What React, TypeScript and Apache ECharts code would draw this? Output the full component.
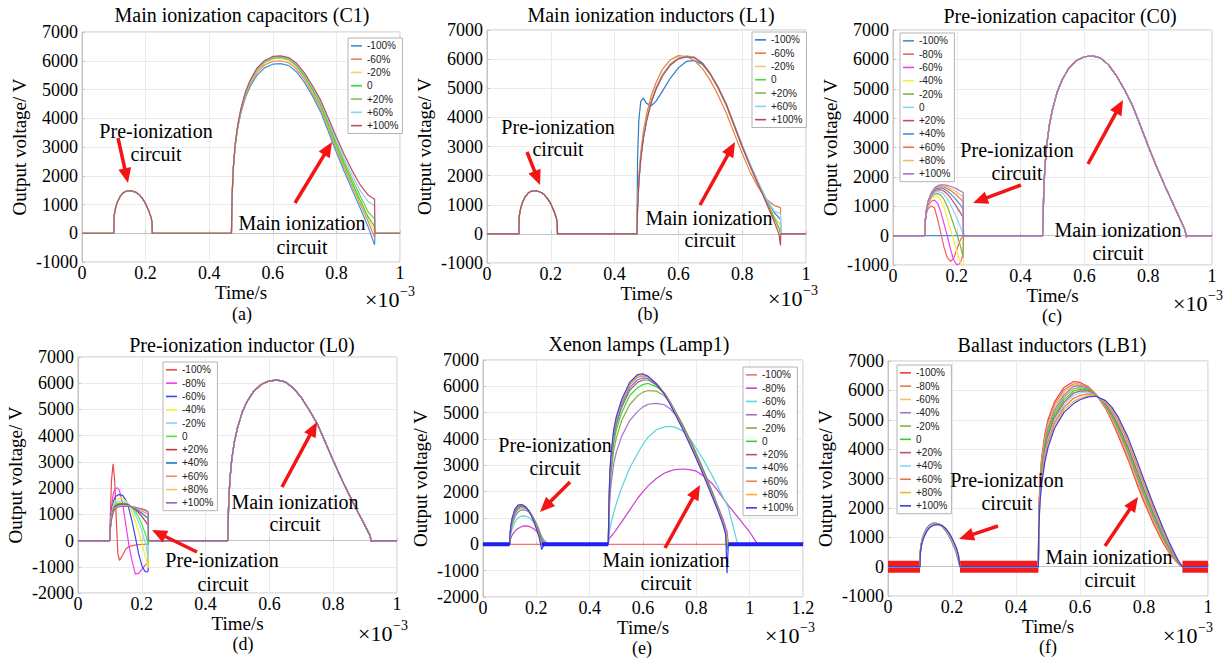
import React, { useEffect, useRef } from 'react';
import * as echarts from 'echarts';

// ---------- labels ----------
const LABELS_7 = ['-100%', '-60%', '-20%', '0', '+20%', '+60%', '+100%'];
const LABELS_11 = ['-100%', '-80%', '-60%', '-40%', '-20%', '0', '+20%', '+40%', '+60%', '+80%', '+100%'];
const TITLES = [
  'Main ionization capacitors (C1)',
  'Main ionization inductors (L1)',
  'Pre-ionization capacitor (C0)',
  'Pre-ionization inductor (L0)',
  'Xenon lamps (Lamp1)',
  'Ballast inductors (LB1)',
];
const TAGS = ['(a)', '(b)', '(c)', '(d)', '(e)', '(f)'];
const X_TICKS_MAX = [1, 1, 1, 1, 1.2, 1];
const Y_MIN = [-1000, -1000, -1000, -2000, -2000, -1000];
const Y_MAX = 7000;

// ---------- colours ----------
const A_COLORS = ['#3E92D8', '#EE8455', '#F2CF7A', '#2BE02B', '#86BF48', '#8CD3F2', '#C74B66'];
const B_COLORS = ['#2C7BC8', '#EE7A44', '#F2C77A', '#3BE03B', '#86BA3E', '#8CD3F2', '#C2435E'];
const C_COLORS = ['#3E8FDB', '#F26060', '#F23CF2', '#F2F03C', '#80B048', '#8CD3F2', '#C24E6A', '#4C8ED6', '#F27048', '#F2C060', '#A274C8'];
const D_COLORS = ['#F04848', '#F23CF2', '#3C46F0', '#F2F020', '#8CD3F2', '#3CF03C', '#C2304E', '#2272C6', '#F28A66', '#F2C066', '#9466B8'];
const E_COLORS = ['#F27272', '#D23CD2', '#5CD6D6', '#A274C8', '#86AC48', '#22E022', '#C24E6A', '#4C8ED6', '#F28250', '#F2B238', '#3C3CF2'];
const F_COLORS = ['#F23C3C', '#F2784A', '#F2C060', '#A274C8', '#82B448', '#2ED42E', '#C24E6A', '#8CD3F2', '#F27048', '#F2B238', '#3C3CF2'];

// ---------- (a)/(b) shared pre-ionization pulse ----------
const AB_PRE_X = [0.1, 0.101, 0.105, 0.11, 0.12, 0.13, 0.14, 0.155, 0.17, 0.18, 0.19, 0.2, 0.21, 0.217, 0.22, 0.221];
const AB_PRE_Y = [0, 600, 850, 1050, 1280, 1410, 1470, 1480, 1420, 1340, 1210, 1030, 780, 560, 400, 0];

// ---------- main pulse time grid (a)-(d) ----------
const MAIN_X = [0.47, 0.472, 0.476, 0.482, 0.49, 0.5, 0.515, 0.53, 0.55, 0.575, 0.6, 0.625, 0.65, 0.675, 0.7, 0.725, 0.75, 0.775, 0.8, 0.825, 0.85, 0.875, 0.9, 0.915, 0.92, 0.921];

// (a) main ionization capacitors
const A_M100 = [0, 1290, 2270, 3050, 3680, 4200, 4760, 5130, 5490, 5760, 5880, 5900, 5830, 5610, 5240, 4770, 4230, 3530, 2820, 2140, 1500, 870, 220, -250, -400, 0];
const A_M60 = [0, 1295, 2285, 3070, 3710, 4240, 4820, 5210, 5580, 5860, 5980, 6000, 5930, 5710, 5340, 4870, 4330, 3640, 2930, 2260, 1630, 1020, 400, 0, -150, 0];
const A_M20 = [0, 1300, 2295, 3090, 3740, 4280, 4880, 5270, 5650, 5930, 6060, 6080, 6010, 5790, 5420, 4950, 4420, 3730, 3020, 2350, 1720, 1120, 520, 200, 80, 0];
const A_0 = [0, 1300, 2300, 3100, 3750, 4300, 4900, 5300, 5680, 5960, 6090, 6120, 6050, 5820, 5450, 4980, 4450, 3760, 3050, 2380, 1750, 1150, 560, 330, 220, 0];
const A_P20 = [0, 1300, 2305, 3110, 3760, 4320, 4920, 5320, 5700, 5980, 6110, 6140, 6070, 5850, 5490, 5030, 4510, 3840, 3150, 2490, 1880, 1300, 740, 560, 520, 0];
const A_P60 = [0, 1300, 2310, 3120, 3770, 4330, 4940, 5340, 5720, 6000, 6130, 6150, 6090, 5880, 5530, 5080, 4580, 3920, 3250, 2610, 2020, 1480, 1100, 1000, 930, 0];
const A_P100 = [0, 1300, 2315, 3130, 3780, 4340, 4950, 5350, 5740, 6020, 6150, 6170, 6110, 5910, 5570, 5130, 4640, 4000, 3350, 2730, 2170, 1680, 1330, 1220, 1180, 0];

// (b) main ionization inductors
const B_M100 = [0, 2600, 3900, 4550, 4660, 4480, 4400, 4560, 4900, 5350, 5700, 5920, 5950, 5820, 5480, 5000, 4430, 3740, 3040, 2380, 1760, 1200, 740, 560, 500, 0];
const B_M60 = [0, 1000, 1950, 2800, 3500, 4100, 4750, 5200, 5650, 5980, 6120, 6090, 5950, 5680, 5270, 4750, 4150, 3450, 2760, 2120, 1600, 1200, 980, 920, 900, 0];
const B_M20 = [0, 920, 1830, 2640, 3330, 3930, 4580, 5030, 5480, 5850, 6040, 6100, 6050, 5850, 5470, 4990, 4410, 3690, 2970, 2310, 1700, 1130, 600, 370, 300, 0];
const B_0 = [0, 900, 1800, 2600, 3300, 3900, 4550, 5000, 5450, 5820, 6030, 6100, 6060, 5860, 5480, 5000, 4420, 3700, 2980, 2320, 1700, 1120, 560, 200, 0, 0];
const B_P20 = [0, 900, 1800, 2600, 3300, 3900, 4550, 5000, 5450, 5820, 6030, 6100, 6070, 5870, 5500, 5020, 4450, 3730, 3010, 2350, 1730, 1140, 540, 200, 100, 0];
const B_P60 = [0, 890, 1780, 2580, 3280, 3880, 4530, 4990, 5440, 5810, 6020, 6090, 6070, 5880, 5510, 5040, 4470, 3750, 3040, 2380, 1780, 1220, 780, 720, 700, 0];
const B_P100 = [0, 880, 1760, 2560, 3260, 3860, 4510, 4970, 5420, 5800, 6010, 6080, 6050, 5860, 5490, 5020, 4450, 3730, 3000, 2330, 1700, 1080, 430, 0, -400, 0];

// (c)/(d) shared main pulse
const CD_MAIN = [0, 1300, 2300, 3100, 3750, 4300, 4900, 5300, 5680, 5960, 6090, 6120, 6050, 5820, 5450, 4980, 4450, 3760, 3050, 2380, 1750, 1150, 560, 200, -50, 0];

// (c) pre-ionization capacitor: pre pulses
const C_PRE_X = [0.1, 0.101, 0.105, 0.11, 0.12, 0.13, 0.14, 0.15, 0.16, 0.17, 0.18, 0.19, 0.2, 0.21, 0.215, 0.22, 0.221];
const C_M100 = [0, 0, 0, 0, 0, 0, 0, 0, 0, 0, 0, 0, 0, 0, 0, 0, 0];
const C_M80 = [0, 450, 750, 920, 1010, 950, 550, 80, -400, -750, -880, -780, -480, -180, -80, 0, 0];
const C_M60 = [0, 470, 800, 1000, 1170, 1210, 1100, 800, 400, 0, -450, -820, -1000, -950, -800, -600, 0];
const C_M40 = [0, 480, 830, 1050, 1260, 1330, 1330, 1200, 950, 600, 220, -150, -550, -880, -980, -1000, 0];
const C_M20 = [0, 490, 850, 1080, 1320, 1410, 1430, 1380, 1230, 1000, 700, 380, 60, -300, -520, -750, 0];
const C_0 = [0, 500, 870, 1110, 1370, 1470, 1500, 1480, 1400, 1260, 1060, 840, 590, 330, 200, 50, 0];
const C_P20 = [0, 500, 880, 1130, 1400, 1520, 1560, 1560, 1510, 1420, 1290, 1140, 970, 800, 710, 620, 0];
const C_P40 = [0, 500, 890, 1150, 1430, 1560, 1610, 1620, 1590, 1520, 1430, 1320, 1190, 1060, 980, 900, 0];
const C_P60 = [0, 500, 895, 1160, 1440, 1590, 1650, 1670, 1650, 1600, 1540, 1460, 1370, 1270, 1210, 1150, 0];
const C_P80 = [0, 500, 898, 1165, 1450, 1610, 1680, 1700, 1690, 1660, 1610, 1550, 1480, 1400, 1360, 1320, 0];
const C_P100 = [0, 500, 900, 1170, 1460, 1620, 1700, 1725, 1725, 1710, 1680, 1640, 1590, 1530, 1500, 1460, 0];

// (d) pre-ionization inductor: pre pulses
const D_PRE_X = [0.1, 0.101, 0.105, 0.11, 0.115, 0.12, 0.125, 0.13, 0.14, 0.15, 0.16, 0.17, 0.18, 0.19, 0.2, 0.21, 0.215, 0.22, 0.221];
const D_M100 = [0, 800, 2300, 2930, 2300, 800, -500, -760, -550, -320, -230, -190, -170, -160, -150, -140, -135, -130, 0];
const D_M80 = [0, 600, 1300, 1750, 1950, 2000, 2000, 1900, 1400, 600, -200, -800, -1280, -1250, -1100, -950, -900, -870, 0];
const D_M60 = [0, 500, 1100, 1450, 1620, 1700, 1740, 1750, 1720, 1550, 1200, 700, 120, -500, -950, -1180, -1200, -1150, 0];
const D_M40 = [0, 480, 1000, 1320, 1480, 1550, 1590, 1600, 1600, 1510, 1330, 1060, 720, 330, -90, -550, -800, -1050, 0];
const D_M20 = [0, 470, 950, 1250, 1400, 1460, 1490, 1500, 1500, 1480, 1370, 1200, 970, 700, 380, -50, -350, -700, 0];
const D_0 = [0, 460, 920, 1200, 1340, 1400, 1420, 1430, 1430, 1420, 1360, 1250, 1100, 900, 620, 300, 100, -150, 0];
const D_P20 = [0, 450, 880, 1150, 1280, 1340, 1370, 1390, 1400, 1390, 1350, 1280, 1180, 1060, 920, 760, 670, 580, 0];
const D_P40 = [0, 440, 860, 1120, 1250, 1310, 1340, 1360, 1370, 1360, 1330, 1280, 1210, 1130, 1040, 940, 890, 830, 0];
const D_P60 = [0, 430, 840, 1100, 1220, 1280, 1310, 1330, 1340, 1340, 1320, 1290, 1240, 1190, 1130, 1070, 1030, 1000, 0];
const D_P80 = [0, 420, 820, 1080, 1200, 1260, 1290, 1310, 1320, 1320, 1310, 1290, 1260, 1220, 1180, 1140, 1110, 1080, 0];
const D_P100 = [0, 410, 800, 1060, 1180, 1240, 1270, 1290, 1300, 1300, 1300, 1290, 1270, 1240, 1210, 1170, 1140, 1100, 0];

// (e) xenon lamps
const E_PRE_X = [0.1, 0.101, 0.105, 0.11, 0.12, 0.13, 0.14, 0.15, 0.16, 0.17, 0.18, 0.19, 0.2, 0.21, 0.22, 0.23, 0.24, 0.25];
const E_PRE_M80 = [0, 110, 250, 360, 500, 590, 650, 690, 700, 690, 650, 590, 500, 390, 260, 140, 40, 0];
const E_PRE_M60 = [0, 190, 420, 610, 850, 990, 1060, 1080, 1070, 1030, 950, 830, 680, 500, 300, 100, 0, 0];
const E_PRE_M40 = [0, 240, 540, 770, 1050, 1210, 1290, 1310, 1300, 1240, 1140, 990, 800, 560, 280, 0, 0, 0];
const E_PRE_M20 = [0, 270, 600, 850, 1150, 1310, 1380, 1390, 1360, 1290, 1160, 980, 760, 500, 200, 0, 0, 0];
const E_PRE_0 = [0, 290, 640, 900, 1210, 1370, 1430, 1430, 1390, 1300, 1160, 960, 730, 460, 140, 0, 0, 0];
const E_PRE_P20 = [0, 310, 670, 940, 1250, 1400, 1450, 1450, 1400, 1300, 1150, 940, 700, 420, 80, 0, 0, 0];
const E_PRE_P40 = [0, 320, 690, 960, 1280, 1420, 1470, 1465, 1410, 1300, 1140, 920, 670, 380, 30, 0, 0, 0];
const E_PRE_P60 = [0, 330, 710, 980, 1300, 1440, 1490, 1475, 1420, 1300, 1140, 910, 650, 350, 0, 0, 0, 0];
const E_PRE_P80 = [0, 340, 730, 1000, 1320, 1460, 1500, 1480, 1420, 1300, 1130, 900, 630, 330, 0, 0, 0, 0];
const E_PRE_P100 = [0, 350, 750, 1020, 1340, 1480, 1510, 1490, 1420, 1300, 1120, 880, 600, 300, -200, 0, 0, 0];

const E_MX = [0.47, 0.472, 0.476, 0.48, 0.49, 0.5, 0.52, 0.55, 0.58, 0.6, 0.62, 0.65, 0.68, 0.7, 0.72, 0.75, 0.78, 0.8, 0.83, 0.86, 0.88, 0.9, 0.91, 0.915, 0.92, 0.955, 0.98, 1.0, 1.03, 1.04];
const E_M80 = [0, 200, 250, 300, 420, 560, 850, 1300, 1750, 2000, 2230, 2500, 2700, 2780, 2840, 2860, 2830, 2780, 2580, 2300, 2050, 1750, 1620, 1550, 1480, 1040, 720, 470, 0, 0];
const E_M60 = [0, 350, 600, 800, 1200, 1550, 2150, 2900, 3450, 3800, 4080, 4350, 4460, 4480, 4450, 4300, 3950, 3650, 3150, 2600, 2200, 1800, 1600, 1500, 1400, 0, 0, 0, 0, 0];
const E_M40 = [0, 900, 1750, 2250, 3050, 3500, 4100, 4700, 5050, 5220, 5320, 5350, 5300, 5160, 4940, 4480, 3900, 3460, 2760, 2000, 1480, 960, 650, 500, 0, 0, 0, 0, 0, 0];
const E_M20 = [0, 1100, 2100, 2650, 3550, 4050, 4700, 5300, 5640, 5780, 5840, 5820, 5640, 5400, 5070, 4520, 3890, 3430, 2720, 1950, 1410, 800, 380, 100, 0, 0, 0, 0, 0, 0];
const E_0 = [0, 1200, 2300, 2900, 3850, 4350, 5000, 5650, 5950, 6070, 6110, 5990, 5740, 5440, 5070, 4500, 3860, 3400, 2700, 1930, 1400, 820, 400, -200, 0, 0, 0, 0, 0, 0];
const E_P20 = [0, 1300, 2500, 3100, 4050, 4550, 5200, 5850, 6150, 6240, 6240, 6050, 5750, 5430, 5050, 4470, 3830, 3370, 2670, 1910, 1390, 830, 460, 250, 0, 0, 0, 0, 0, 0];
const E_P40 = [0, 1350, 2600, 3200, 4150, 4650, 5300, 5950, 6250, 6320, 6300, 6090, 5750, 5420, 5030, 4440, 3800, 3340, 2640, 1890, 1370, 820, 470, 280, 0, 0, 0, 0, 0, 0];
const E_P60 = [0, 1400, 2700, 3300, 4250, 4750, 5400, 6050, 6350, 6400, 6350, 6110, 5740, 5400, 5000, 4410, 3770, 3310, 2610, 1860, 1350, 800, 450, 270, 0, 0, 0, 0, 0, 0];
const E_P80 = [0, 1450, 2750, 3350, 4300, 4800, 5450, 6100, 6400, 6430, 6360, 6110, 5720, 5380, 4980, 4380, 3740, 3280, 2580, 1830, 1330, 780, 430, 250, 0, 0, 0, 0, 0, 0];
const E_P100 = [0, 1500, 2800, 3400, 4350, 4850, 5500, 6150, 6450, 6470, 6380, 6100, 5700, 5350, 4950, 4350, 3700, 3250, 2550, 1800, 1300, 750, 400, -1100, 0, 0, 0, 0, 0, 0];
const E_BAND_X = [0, 0.1, 0.16, 0.22, 0.47, 0.7, 0.92, 1.2];
const E_BAND_Y: (number | string)[] = [0, 0, '-', 0, 0, '-', 0, 0];

// (f) ballast inductors
const F_PRE_X = [0.1, 0.101, 0.105, 0.11, 0.12, 0.13, 0.14, 0.15, 0.16, 0.17, 0.18, 0.19, 0.2, 0.21, 0.215, 0.22, 0.225];
const F_PRE_EARLY = [0, 550, 850, 1050, 1290, 1420, 1475, 1480, 1440, 1360, 1230, 1060, 840, 580, 420, 200, 0];
const F_PRE_MID = [0, 500, 800, 1000, 1240, 1380, 1440, 1460, 1440, 1380, 1270, 1110, 900, 650, 500, 300, 0];
const F_PRE_LATE = [0, 450, 750, 950, 1190, 1330, 1400, 1430, 1430, 1390, 1300, 1160, 970, 730, 590, 400, 0];
const F_MX = [0.47, 0.471, 0.475, 0.48, 0.49, 0.5, 0.52, 0.55, 0.58, 0.6, 0.625, 0.65, 0.68, 0.7, 0.72, 0.75, 0.78, 0.8, 0.83, 0.86, 0.88, 0.9, 0.91, 0.92];
const F_M100 = [0, 1800, 3000, 3700, 4500, 5000, 5600, 6100, 6300, 6270, 6130, 5870, 5380, 4950, 4450, 3650, 2750, 2200, 1450, 800, 450, 180, 70, 0];
const F_M80 = [0, 1740, 2920, 3610, 4405, 4905, 5510, 6015, 6225, 6210, 6095, 5865, 5405, 5000, 4515, 3725, 2830, 2275, 1515, 850, 485, 197, 78, 0];
const F_M60 = [0, 1680, 2840, 3520, 4310, 4810, 5420, 5930, 6180, 6180, 6090, 5855, 5435, 5045, 4575, 3800, 2910, 2350, 1580, 900, 520, 214, 86, 0];
const F_M40 = [0, 1620, 2760, 3430, 4215, 4715, 5330, 5845, 6135, 6155, 6085, 5850, 5460, 5090, 4640, 3875, 2990, 2425, 1645, 950, 555, 231, 94, 0];
const F_M20 = [0, 1560, 2680, 3340, 4120, 4620, 5240, 5760, 6060, 6095, 6050, 5845, 5490, 5140, 4700, 3950, 3070, 2500, 1710, 1000, 590, 248, 102, 0];
const F_0 = [0, 1500, 2600, 3250, 4025, 4525, 5150, 5675, 5985, 6035, 6015, 5835, 5515, 5185, 4765, 4025, 3150, 2575, 1775, 1050, 625, 265, 110, 0];
const F_P20 = [0, 1440, 2520, 3160, 3930, 4430, 5060, 5590, 5910, 5975, 5980, 5830, 5540, 5230, 4830, 4100, 3230, 2650, 1840, 1100, 660, 282, 118, 0];
const F_P40 = [0, 1380, 2440, 3070, 3835, 4335, 4970, 5505, 5835, 5920, 5945, 5820, 5570, 5280, 4890, 4175, 3310, 2725, 1905, 1150, 695, 299, 126, 0];
const F_P60 = [0, 1320, 2360, 2980, 3740, 4240, 4880, 5420, 5730, 5830, 5880, 5815, 5595, 5325, 4955, 4250, 3390, 2800, 1970, 1200, 730, 316, 134, 0];
const F_P80 = [0, 1260, 2280, 2890, 3645, 4145, 4790, 5335, 5625, 5740, 5815, 5805, 5625, 5375, 5015, 4325, 3470, 2875, 2035, 1250, 765, 333, 142, 0];
const F_P100 = [0, 1200, 2200, 2800, 3550, 4050, 4700, 5250, 5550, 5680, 5780, 5800, 5650, 5420, 5080, 4400, 3550, 2950, 2100, 1300, 800, 350, 150, 0];
const F_BAND_X = [0, 0.1, 0.16, 0.225, 0.47, 0.6, 0.92, 1];
const F_BAND_Y: (number | string)[] = [0, 0, '-', 0, 0, '-', 0, 0];

// ---------- helpers ----------
type Seg = [number[], (number | string)[]];
const zip = (xs: number[], ys: (number | string)[]) => xs.map((x, i) => [x, ys[i]]);
function curve(xMax: number, ...segs: Seg[]) {
  const pts: any[] = [[0, 0]];
  for (const [xs, ys] of segs) pts.push(...zip(xs, ys));
  if (pts[pts.length - 1][0] < xMax) pts.push([xMax, 0]);
  return pts;
}

const PANEL_CURVES: any[][] = [
  [A_M100, A_M60, A_M20, A_0, A_P20, A_P60, A_P100].map((m) => curve(1, [AB_PRE_X, AB_PRE_Y], [MAIN_X, m])),
  [B_M100, B_M60, B_M20, B_0, B_P20, B_P60, B_P100].map((m) => curve(1, [AB_PRE_X, AB_PRE_Y], [MAIN_X, m])),
  [C_M100, C_M80, C_M60, C_M40, C_M20, C_0, C_P20, C_P40, C_P60, C_P80, C_P100].map((p) => curve(1, [C_PRE_X, p], [MAIN_X, CD_MAIN])),
  [D_M100, D_M80, D_M60, D_M40, D_M20, D_0, D_P20, D_P40, D_P60, D_P80, D_P100].map((p) => curve(1, [D_PRE_X, p], [MAIN_X, CD_MAIN])),
  [
    curve(1.2),
    curve(1.2, [E_PRE_X, E_PRE_M80], [E_MX, E_M80]),
    curve(1.2, [E_PRE_X, E_PRE_M60], [E_MX, E_M60]),
    curve(1.2, [E_PRE_X, E_PRE_M40], [E_MX, E_M40]),
    curve(1.2, [E_PRE_X, E_PRE_M20], [E_MX, E_M20]),
    curve(1.2, [E_PRE_X, E_PRE_0], [E_MX, E_0]),
    curve(1.2, [E_PRE_X, E_PRE_P20], [E_MX, E_P20]),
    curve(1.2, [E_PRE_X, E_PRE_P40], [E_MX, E_P40]),
    curve(1.2, [E_PRE_X, E_PRE_P60], [E_MX, E_P60]),
    curve(1.2, [E_PRE_X, E_PRE_P80], [E_MX, E_P80]),
    curve(1.2, [E_PRE_X, E_PRE_P100], [E_MX, E_P100]),
  ],
  [
    curve(1, [F_PRE_X, F_PRE_EARLY], [F_MX, F_M100]),
    curve(1, [F_PRE_X, F_PRE_EARLY], [F_MX, F_M80]),
    curve(1, [F_PRE_X, F_PRE_EARLY], [F_MX, F_M60]),
    curve(1, [F_PRE_X, F_PRE_EARLY], [F_MX, F_M40]),
    curve(1, [F_PRE_X, F_PRE_MID], [F_MX, F_M20]),
    curve(1, [F_PRE_X, F_PRE_MID], [F_MX, F_0]),
    curve(1, [F_PRE_X, F_PRE_MID], [F_MX, F_P20]),
    curve(1, [F_PRE_X, F_PRE_MID], [F_MX, F_P40]),
    curve(1, [F_PRE_X, F_PRE_LATE], [F_MX, F_P60]),
    curve(1, [F_PRE_X, F_PRE_LATE], [F_MX, F_P80]),
    curve(1, [F_PRE_X, F_PRE_LATE], [F_MX, F_P100]),
  ],
];
const PANEL_LABELS = [LABELS_7, LABELS_7, LABELS_11, LABELS_11, LABELS_11, LABELS_11];
const PANEL_COLORS = [A_COLORS, B_COLORS, C_COLORS, D_COLORS, E_COLORS, F_COLORS];
const KEYS = ['a', 'b', 'c', 'd', 'e', 'f'];

// ---------- layout (pixels) ----------
const LAYOUT = [
  { grid: { left: 82, top: 32, width: 318, height: 230 }, legend: { left: 348, top: 38 }, title: [242, 15], tag: [242, 314], exp: [365, 299],
    notes: [['Pre-ionization', 156, 131], ['circuit', 156, 154], ['Main ionization', 302, 223], ['circuit', 302, 247]],
    arrows: [[118, 138, 128, 183], [295, 203, 332, 142]] },
  { grid: { left: 487, top: 30, width: 319, height: 233 }, legend: { left: 752, top: 32 }, title: [651, 15], tag: [648, 314], exp: [768, 298],
    notes: [['Pre-ionization', 558, 127], ['circuit', 558, 149], ['Main ionization', 709, 218], ['circuit', 710, 240]],
    arrows: [[527, 152, 540, 185], [700, 205, 735, 142]] },
  { grid: { left: 893, top: 30, width: 319, height: 235 }, legend: { left: 900, top: 33 }, title: [1060, 16], tag: [1052, 316], exp: [1173, 303],
    notes: [['Pre-ionization', 1017, 150], ['circuit', 1017, 173], ['Main ionization', 1118, 230], ['circuit', 1118, 253]],
    arrows: [[1021, 185, 973, 203], [1088, 164, 1123, 100]] },
  { grid: { left: 78, top: 357, width: 319, height: 236 }, legend: { left: 163, top: 362 }, title: [242, 345], tag: [243, 644], exp: [358, 633],
    notes: [['Main ionization', 295, 502], ['circuit', 295, 524], ['Pre-ionization', 222, 560], ['circuit', 223, 584]],
    arrows: [[282, 487, 317, 422], [197, 552, 152, 530]] },
  { grid: { left: 483, top: 360, width: 320, height: 237 }, legend: { left: 743, top: 367 }, title: [639, 344], tag: [642, 648], exp: [765, 635],
    notes: [['Pre-ionization', 555, 445], ['circuit', 555, 468], ['Main ionization', 666, 560], ['circuit', 666, 583]],
    arrows: [[570, 482, 540, 512], [665, 548, 700, 485]] },
  { grid: { left: 888, top: 361, width: 320, height: 235 }, legend: { left: 897, top: 365 }, title: [1052, 345], tag: [1048, 647], exp: [1163, 635],
    notes: [['Pre-ionization', 1007, 480], ['circuit', 1007, 503], ['Main ionization', 1109, 557], ['circuit', 1110, 580]],
    arrows: [[998, 526, 959, 539], [1105, 546, 1138, 497]] },
];

const SERIF = 'Liberation Serif';
const SANS = 'Liberation Sans';

function txt(text: string, x: number, y: number, size: number, align = 'center') {
  return {
    type: 'text', x, y, z: 100,
    style: { text, fill: '#000', fontSize: size, fontFamily: SERIF, textAlign: align, textVerticalAlign: 'middle' },
  };
}

function arrow(x1: number, y1: number, x2: number, y2: number) {
  const dx = x2 - x1, dy = y2 - y1;
  const L = Math.hypot(dx, dy);
  const ux = dx / L, uy = dy / L;
  const hl = 15, hw = 6.5;
  const bx = x2 - ux * hl, by = y2 - uy * hl;
  return [
    { type: 'line', z: 100, shape: { x1, y1, x2: bx + ux * 2, y2: by + uy * 2 }, style: { stroke: '#F41414', lineWidth: 3.5 } },
    { type: 'polygon', z: 100, shape: { points: [[x2, y2], [bx - uy * hw, by + ux * hw], [bx + uy * hw, by - ux * hw]] }, style: { fill: '#F41414' } },
  ];
}

function buildOption() {
  const grids: any[] = [], xAxes: any[] = [], yAxes: any[] = [], legends: any[] = [], series: any[] = [], graphics: any[] = [];
  LAYOUT.forEach((L, i) => {
    grids.push({ ...L.grid, show: true, borderColor: '#c4c4c4', borderWidth: 1, backgroundColor: '#fff' });
    xAxes.push({
      type: 'value', gridIndex: i, min: 0, max: X_TICKS_MAX[i], interval: 0.2,
      name: 'Time/s', nameLocation: 'middle', nameGap: 21,
      nameTextStyle: { fontFamily: SERIF, fontSize: 19, color: '#000' },
      axisLine: { show: true, lineStyle: { color: '#c4c4c4' } },
      axisTick: { show: true, inside: true, length: 3, lineStyle: { color: '#c4c4c4' } },
      axisLabel: { fontFamily: SERIF, fontSize: 18, color: '#000', margin: 2, formatter: (v: number) => String(+v.toFixed(1)) },
      splitLine: { show: true, lineStyle: { color: '#ebebeb', width: 1 } },
    });
    yAxes.push({
      type: 'value', gridIndex: i, min: Y_MIN[i], max: Y_MAX, interval: 1000,
      name: 'Output voltage/ V', nameLocation: 'middle', nameGap: 53, nameRotate: 90,
      nameTextStyle: { fontFamily: SERIF, fontSize: 19, color: '#000' },
      axisLine: { show: true, lineStyle: { color: '#c4c4c4' } },
      axisTick: { show: true, inside: true, length: 3, lineStyle: { color: '#c4c4c4' } },
      axisLabel: { fontFamily: SERIF, fontSize: 18, color: '#000', margin: 4, formatter: (v: number) => String(v) },
      splitLine: { show: true, lineStyle: { color: '#ebebeb', width: 1 } },
    });
    const key = KEYS[i];
    const labels = PANEL_LABELS[i];
    const colors = PANEL_COLORS[i];
    if (key === 'f') {
      series.push({
        type: 'line', name: 'f|band', xAxisIndex: i, yAxisIndex: i, symbol: 'none', z: 1, silent: true,
        data: zip(F_BAND_X, F_BAND_Y), lineStyle: { width: 12, color: '#F21C1C' }, itemStyle: { color: '#F21C1C' },
      });
    }
    PANEL_CURVES[i].forEach((data, j) => {
      series.push({
        type: 'line', name: `${key}|${labels[j]}`, xAxisIndex: i, yAxisIndex: i, symbol: 'none', showSymbol: false,
        z: 2, silent: true, data,
        lineStyle: { width: 1.2, color: colors[j] }, itemStyle: { color: colors[j] },
      });
    });
    if (key === 'e') {
      series.push({
        type: 'line', name: 'e|band', xAxisIndex: i, yAxisIndex: i, symbol: 'none', z: 3, silent: true,
        data: zip(E_BAND_X, E_BAND_Y), lineStyle: { width: 4, color: '#1E1EF0' }, itemStyle: { color: '#1E1EF0' },
      });
    }
    legends.push({
      data: labels.map((l) => ({ name: `${key}|${l}`, icon: 'rect' })),
      left: L.legend.left, top: L.legend.top, orient: 'vertical',
      itemWidth: 11, itemHeight: 1.6, itemGap: 1.6, padding: [2, 4, 2, 3],
      borderColor: '#b4b4b4', borderWidth: 1, backgroundColor: '#fff', selectedMode: false,
      textStyle: { fontFamily: SANS, fontSize: 10, color: '#222', lineHeight: 11.7 },
      formatter: (n: string) => n.split('|')[1],
      z: 10,
    });
    graphics.push(txt(TITLES[i], L.title[0], L.title[1], 20));
    graphics.push(txt(TAGS[i], L.tag[0], L.tag[1], 18));
    graphics.push(txt('×10', L.exp[0], L.exp[1], 22, 'left'));
    graphics.push(txt('−3', L.exp[0] + 35, L.exp[1] - 8, 14, 'left'));
    L.notes.forEach((n: any) => graphics.push(txt(n[0], n[1], n[2], 20)));
    L.arrows.forEach((a) => graphics.push(...arrow(a[0], a[1], a[2], a[3])));
  });
  return {
    animation: false,
    backgroundColor: '#fff',
    textStyle: { fontFamily: SERIF },
    grid: grids, xAxis: xAxes, yAxis: yAxes, legend: legends, series,
    graphic: { elements: graphics },
  };
}

export default function App() {
  const ref = useRef<HTMLDivElement>(null);
  useEffect(() => {
    if (!ref.current) return;
    const chart = echarts.init(ref.current, undefined, { renderer: 'svg' });
    chart.setOption(buildOption() as any);
    return () => chart.dispose();
  }, []);
  return <div ref={ref} style={{ position: 'absolute', left: 0, top: 0, width: 1231, height: 658, background: '#fff' }} />;
}
